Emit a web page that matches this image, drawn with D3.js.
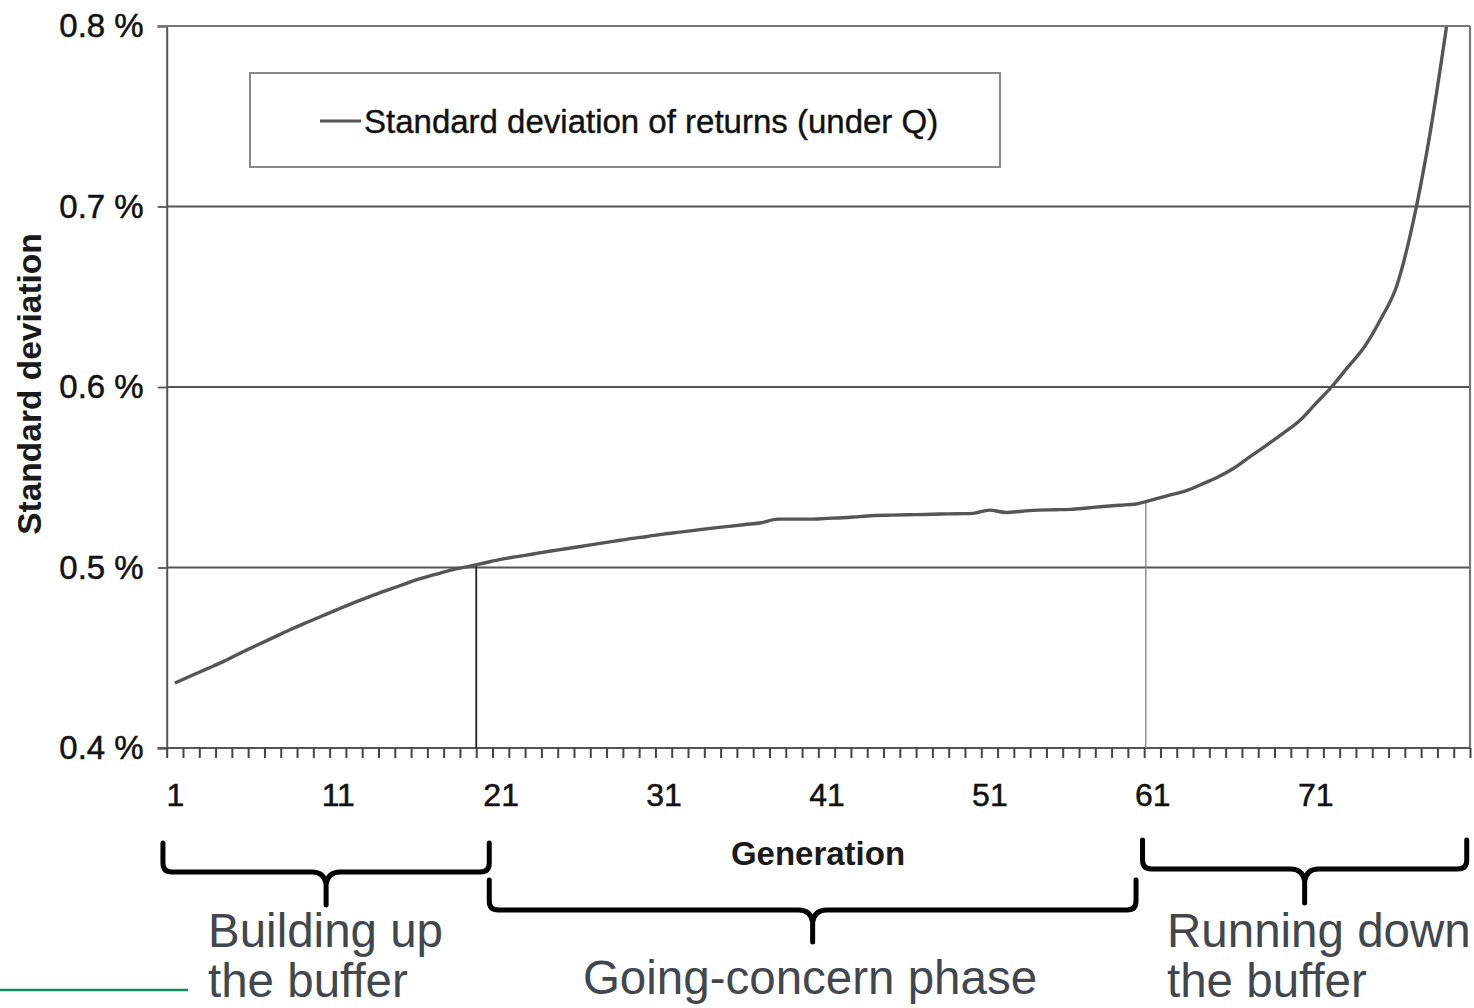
<!DOCTYPE html>
<html>
<head>
<meta charset="utf-8">
<script src="https://cdn.jsdelivr.net/npm/d3@7"></script>
<style>
  html, body { margin: 0; padding: 0; background: #fff; }
  svg { display: block; }
  text { font-family: "Liberation Sans", Arial, sans-serif; }
</style>
</head>
<body>
<svg id="chart" width="1474" height="1008"></svg>
<script>
// ---------- data ----------
const generations = d3.range(1, 81);
const stdDev = [
  0.4360, 0.4400, 0.4440, 0.4480, 0.4525, 0.4568, 0.4610, 0.4652, 0.4692, 0.4730,
  0.4768, 0.4805, 0.4840, 0.4873, 0.4905, 0.4937, 0.4962, 0.4987, 0.5005, 0.5025,
  0.5045, 0.5060, 0.5075, 0.5090, 0.5104, 0.5118, 0.5132, 0.5146, 0.5160, 0.5172,
  0.5185, 0.5196, 0.5207, 0.5218, 0.5228, 0.5238, 0.5248, 0.5268, 0.5268, 0.5268,
  0.5272, 0.5276, 0.5282, 0.5288, 0.5290, 0.5292, 0.5294, 0.5296, 0.5298, 0.5300,
  0.5318, 0.5305, 0.5312, 0.5318, 0.5320, 0.5322, 0.5330, 0.5338, 0.5345, 0.5352,
  0.5375, 0.5400, 0.5423, 0.5460, 0.5500, 0.5550, 0.5614, 0.5677, 0.5742, 0.5810,
  0.5905, 0.6000, 0.6110, 0.6220, 0.6373, 0.6560, 0.6910, 0.7380, 0.7960, 0.8600
];
const yTicks = [0.4, 0.5, 0.6, 0.7, 0.8];
const xLabelTicks = [1, 11, 21, 31, 41, 51, 61, 71];
const phaseMarkers = [19.5, 60.6];       // generation positions of the vertical markers
const phases = [
  { from: 0.27, to: 20.3, lines: ["Building up", "the buffer"], align: "left" },
  { from: 20.3, to: 60.0, lines: ["Going-concern phase"], align: "middle" },
  { from: 60.4, to: 80.3, lines: ["Running down", "the buffer"], align: "left" }
];
const legendLabel = "Standard deviation of returns (under Q)";
const xTitle = "Generation";
const yTitle = "Standard deviation";

// ---------- layout ----------
const svg = d3.select("#chart");
const L = 166.7, R = 1470, T = 26, B = 748;
const x = d3.scaleLinear().domain([0.5, 80.5]).range([L, R]);
const y = d3.scaleLinear().domain([0.4, 0.8]).range([B, T]);
const axisColor = "#555";
const FONT = "Liberation Sans, Arial, sans-serif";

// gridlines
svg.append("g").selectAll("line").data(yTicks.filter(v => v > 0.4)).join("line")
  .attr("x1", L).attr("x2", R).attr("y1", d => y(d)).attr("y2", d => y(d))
  .attr("stroke", axisColor).attr("stroke-width", 1.8);
// right border
svg.append("line").attr("x1", R).attr("x2", R).attr("y1", T).attr("y2", B)
  .attr("stroke", "#777").attr("stroke-width", 2.2);

// y axis
const yAxis = svg.append("g").attr("transform", `translate(${L},0)`)
  .call(d3.axisLeft(y).tickValues(yTicks).tickSize(9).tickPadding(14)
    .tickFormat(d => d3.format(".1f")(d) + " %"));
yAxis.select(".domain").attr("stroke", axisColor).attr("stroke-width", 2);
yAxis.selectAll(".tick line").attr("stroke", axisColor).attr("stroke-width", 1.8);
yAxis.selectAll(".tick text").attr("font-size", 33).attr("fill", "#111")
  .attr("stroke", "#111").attr("stroke-width", 0.5).style("font-family", FONT);

// x axis: category boundary ticks
const xAxis = svg.append("g").attr("transform", `translate(0,${B})`)
  .call(d3.axisBottom(x).tickValues(d3.range(0.5, 81, 1)).tickSize(10).tickFormat(""));
xAxis.select(".domain").attr("stroke", axisColor).attr("stroke-width", 2)
  .attr("d", `M${L - 9},0H${R}`);
xAxis.selectAll(".tick line").attr("stroke", "#444").attr("stroke-width", 2);

// x labels
const xLab = svg.append("g").attr("transform", `translate(0,${B})`)
  .call(d3.axisBottom(x).tickValues(xLabelTicks).tickSize(0).tickPadding(35));
xLab.select(".domain").remove();
xLab.selectAll(".tick text").attr("font-size", 32).attr("fill", "#111")
  .attr("stroke", "#111").attr("stroke-width", 0.5).style("font-family", FONT);

// axis titles
svg.append("text").attr("x", 818).attr("y", 865).attr("text-anchor", "middle")
  .attr("font-size", 33).attr("font-weight", "bold").attr("fill", "#1a1a1a").text(xTitle);
svg.append("text").attr("transform", "translate(41,384) rotate(-90)").attr("text-anchor", "middle")
  .attr("font-size", 33.5).attr("font-weight", "bold").attr("fill", "#1a1a1a").text(yTitle);

// phase marker lines
svg.append("line").attr("x1", x(phaseMarkers[0])).attr("x2", x(phaseMarkers[0]))
  .attr("y1", y(stdDev[18] + 0.0003)).attr("y2", B).attr("stroke", "#222").attr("stroke-width", 1.8);
svg.append("line").attr("x1", x(phaseMarkers[1])).attr("x2", x(phaseMarkers[1]))
  .attr("y1", y(0.5362)).attr("y2", B).attr("stroke", "#888").attr("stroke-width", 1.4);

// curve
svg.append("clipPath").attr("id", "plotclip").append("rect")
  .attr("x", L).attr("y", T).attr("width", R - L).attr("height", B - T);
svg.append("path").datum(generations.map((g, i) => [g, stdDev[i]]))
  .attr("clip-path", "url(#plotclip)")
  .attr("fill", "none").attr("stroke", "#555").attr("stroke-width", 3.4)
  .attr("stroke-linejoin", "round")
  .attr("d", d3.line().curve(d3.curveMonotoneX).x(d => x(d[0])).y(d => y(d[1])));

// top border
svg.append("line").attr("x1", L - 9).attr("x2", R).attr("y1", T).attr("y2", T)
  .attr("stroke", "#777").attr("stroke-width", 2.2);

// legend
svg.append("rect").attr("x", 250).attr("y", 73).attr("width", 750).attr("height", 94)
  .attr("fill", "#fff").attr("stroke", "#888").attr("stroke-width", 2);
svg.append("line").attr("x1", 320).attr("x2", 361).attr("y1", 121).attr("y2", 121)
  .attr("stroke", "#555").attr("stroke-width", 3);
svg.append("text").attr("x", 364).attr("y", 133).attr("font-size", 33).attr("fill", "#111")
  .attr("stroke", "#111").attr("stroke-width", 0.4)
  .text(legendLabel);

// braces
function brace(x0, x1, yTop, yH, yTip) {
  const xm = (x0 + x1) / 2, r = 9;
  return `M${x0},${yTop} V${yH - r} Q${x0},${yH} ${x0 + r},${yH} H${xm - 14} ` +
    `Q${xm - 2},${yH} ${xm},${yH + 12} V${yTip} ` +
    `M${x1},${yTop} V${yH - r} Q${x1},${yH} ${x1 - r},${yH} H${xm + 14} ` +
    `Q${xm + 2},${yH} ${xm},${yH + 12}`;
}
const braceY = [[843, 872, 905], [880, 910, 942], [840, 869, 903]];
phases.forEach((p, i) => {
  const [yt, yh, yp] = braceY[i];
  svg.append("path").attr("d", brace(x(p.from), x(p.to), yt, yh, yp))
    .attr("fill", "none").attr("stroke", "#000").attr("stroke-width", 5)
    .attr("stroke-linecap", "round").attr("stroke-linejoin", "round");
});

// phase labels
const phaseLabelPos = [[208, 947], [810, 994], [1167, 947]];
phases.forEach((p, i) => {
  const [tx, ty] = phaseLabelPos[i];
  const t = svg.append("text").attr("x", tx).attr("y", ty)
    .attr("text-anchor", p.align === "middle" ? "middle" : "start")
    .attr("font-size", 47.5).attr("fill", "#41474d");
  p.lines.forEach((ln, j) => t.append("tspan").attr("x", tx).attr("dy", j === 0 ? 0 : 50).text(ln));
});

// green line at bottom-left
svg.append("line").attr("x1", 0).attr("x2", 188).attr("y1", 990).attr("y2", 990)
  .attr("stroke", "#0e8a5c").attr("stroke-width", 2.5);
</script>
</body>
</html>
